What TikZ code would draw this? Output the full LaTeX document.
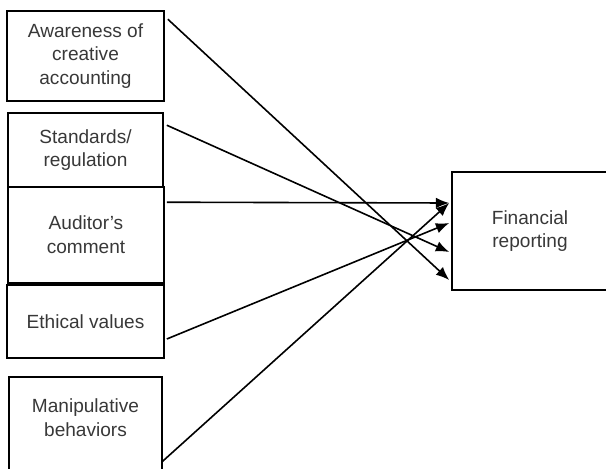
\documentclass[tikz,border=0pt]{standalone}
\usepackage{fontspec}
\setmainfont{Liberation Sans}
\usetikzlibrary{arrows.meta}
\usetikzlibrary{calc}

\newcommand{\pxunit}{0.75pt}
\tikzset{
  factorbox/.style={draw=black,line width=1.2pt,rectangle,align=center,
    text=black!78,font=\fontsize{14.3}{17.8}\selectfont,inner sep=0pt},
  factorlink/.style={line width=1.2pt,-{Latex[length=10pt,width=8pt]}}
}

\begin{document}
\begin{tikzpicture}[x=\pxunit,y=-\pxunit]
\useasboundingbox (0,0) rectangle (606,468);
\clip (0,0) rectangle (606,468);

\node[factorbox,minimum width=157*\pxunit,minimum height=90*\pxunit] (aware) at (85.5,56) {Awareness of\\creative\\accounting};
\node[factorbox,minimum width=155*\pxunit,minimum height=74*\pxunit] (stand) at (85.5,150) {Standards/\\regulation};
\node[factorbox,minimum width=156*\pxunit,minimum height=96*\pxunit] (audit) at (86,235) {Auditor’s\\comment};
\node[factorbox,minimum width=157*\pxunit,minimum height=73*\pxunit] (ethic) at (85.5,321.5) {Ethical values};
\node[factorbox,minimum width=153*\pxunit,minimum height=98*\pxunit] (manip) at (85.5,426) {};
\node[factorbox,draw=none] (maniptext) at (85.5,418) {Manipulative\\behaviors};

\node[factorbox,minimum width=156*\pxunit,minimum height=118*\pxunit] (fin) at (530,231) {Financial\\reporting};

\draw[factorlink] ($(aware.north east)+(3,9)$) -- ($(fin.west)+(-2,49)$);
\draw[factorlink] ($(stand.north east)+(3,13)$) -- ($(fin.west)+(-2,21)$);
\draw[factorlink] ($(audit.north east)+(2,16)$) -- ($(fin.west)+(-2,-28)$);
\draw[factorlink] ($(ethic.east)+(2,17.5)$) -- ($(fin.west)+(-2,-8)$);
\draw[factorlink] ($(manip.east)+(-1,36)$) -- ($(fin.west)+(-2,-28)$);

\end{tikzpicture}
\end{document}
